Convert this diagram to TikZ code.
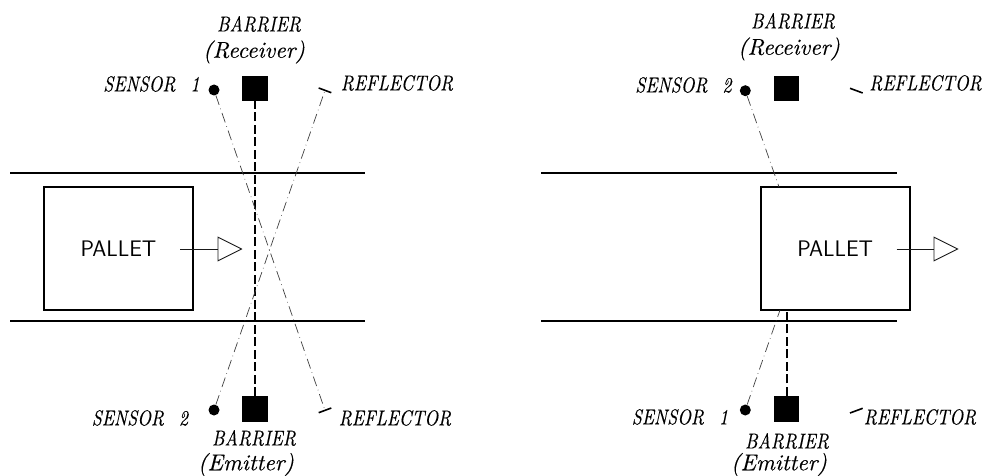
\documentclass[tikz,border=0pt]{standalone}
\usepackage{fontspec}
\usetikzlibrary{arrows.meta}
\newfontfamily\tagfont{lmroman10-italic}[Extension=.otf, FakeStretch=0.83, FakeBold=0.25]
\newfontfamily\subfont{lmroman10-italic}[Extension=.otf, FakeBold=0.25]
\newcommand{\gapsp}{\hspace{15pt}}
\tikzset{
    rail/.style={line width=2.3pt},
    pallet/.style={draw, line width=2.3pt, minimum width=149pt, minimum height=123pt,
	inner sep=0pt, font=\fontsize{22.5}{24}\selectfont\sffamily},
    sensor/.style={circle, fill=black, minimum size=11pt, inner sep=0pt},
    barrier/.style={rectangle, fill=black, minimum size=25.5pt, inner sep=0pt},
    tag/.style={font=\fontsize{21.5}{23}\selectfont\tagfont, inner sep=0pt},
    subtag/.style={font=\fontsize{23}{25}\selectfont\subfont, inner sep=0pt},
    beam/.style={line width=2pt, dash pattern=on 9pt off 3.5pt},
    ray/.style={line width=.7pt, black!75, dash pattern=on 10pt off 4pt on .6pt off 4pt},
    tick/.style={line width=1.6pt},
    flow/.style={line width=.9pt, black!90, -{Triangle[open, length=25pt, width=25pt]}}
}

\begin{document}
\begin{tikzpicture}[x=1pt, y=-1pt]
    \useasboundingbox (0, 0) rectangle (982, 476);

    % left side
    \path (10, 173) coordinate (rt1) (365, 173) coordinate (rt2);
    \path (10, 321) coordinate (rb1) (365, 321) coordinate (rb2);
    \draw [rail] (rt1) -- (rt2);
    \draw [rail] (rb1) -- (rb2);
    \path (118.5, 248.5) node [pallet] (pal) {PALLET};
    \path (180, 249) coordinate (fl1) (242.5, 249) coordinate (fl2);
    \draw [flow] (fl1) -- (fl2);

    \path (214, 90) node [sensor] (st) {};
    \path (214, 410) node [sensor] (sb) {};
    \path (255, 88.5) node [barrier] (bt) {};
    \path (255, 409) node [barrier] (bb) {};
    \path (325, 90.3) coordinate (rft) (325, 410.3) coordinate (rfb);
    \path (318.7, 88) coordinate (rft1) (331.3, 92.7) coordinate (rft2);
    \path (318.7, 412.7) coordinate (rfb1) (331.3, 408) coordinate (rfb2);
    \draw [tick] (rft1) -- (rft2);
    \draw [tick] (rfb1) -- (rfb2);
    \draw [beam] (bb) -- (bt);
    \draw [ray] (st) -- (rfb);
    \draw [ray] (sb) -- (rft);

    \path (259, 24) node [tag] (lbt) {BARRIER};
    \path (254, 52) node [subtag] (lrc) {(Receiver)};
    \path (151.5, 84) node [tag] (lst) {SENSOR\gapsp 1};
    \path (397, 83) node [tag] (lrt) {REFLECTOR};
    \path (140, 418) node [tag] (lsb) {SENSOR\gapsp 2};
    \path (395, 418) node [tag] (lrb) {REFLECTOR};
    \path (254, 438) node [tag] (lbb) {BARRIER};
    \path (246, 464.5) node [subtag] (lem) {(Emitter)};

    % right side
    \path (541, 173) coordinate (rt3) (896.7, 173) coordinate (rt4);
    \path (541, 321) coordinate (rb3) (896.7, 321) coordinate (rb4);
    \draw [rail] (rt3) -- (rt4);
    \draw [rail] (rb3) -- (rb4);
    \path (835.2, 248.5) node [pallet] (pal1) {PALLET};
    \path (896.7, 249) coordinate (fl3) (958.5, 249) coordinate (fl4);
    \draw [flow] (fl3) -- (fl4);

    \path (745.3, 90.7) node [sensor] (st1) {};
    \path (745.3, 410) node [sensor] (sb1) {};
    \path (786.5, 88.5) node [barrier] (bt1) {};
    \path (786.5, 408.8) node [barrier] (bb1) {};
    \path (850, 88.3) coordinate (rft3) (862.7, 93) coordinate (rft4);
    \path (850, 413) coordinate (rfb3) (862.7, 408.3) coordinate (rfb4);
    \draw [tick] (rft3) -- (rft4);
    \draw [tick] (rfb3) -- (rfb4);
    \path (779, 187) coordinate (hit1) (780, 310) coordinate (hit2);
    \draw [beam] (bb1) -- (bb1 |- pal1.south);
    \draw [ray] (st1) -- (hit1);
    \draw [ray] (sb1) -- (hit2);

    \path (793, 21) node [tag] (lbt1) {BARRIER};
    \path (789, 49) node [subtag] (lrc1) {(Receiver)};
    \path (683.5, 85) node [tag] (lst1) {SENSOR\gapsp 2};
    \path (925.5, 83) node [tag] (lrt1) {REFLECTOR};
    \path (680, 417) node [tag] (lsb1) {SENSOR\gapsp 1};
    \path (920, 417) node [tag] (lrb1) {REFLECTOR};
    \path (787, 441) node [tag] (lbb1) {BARRIER};
    \path (779, 464.5) node [subtag] (lem1) {(Emitter)};
\end{tikzpicture}
\end{document}
